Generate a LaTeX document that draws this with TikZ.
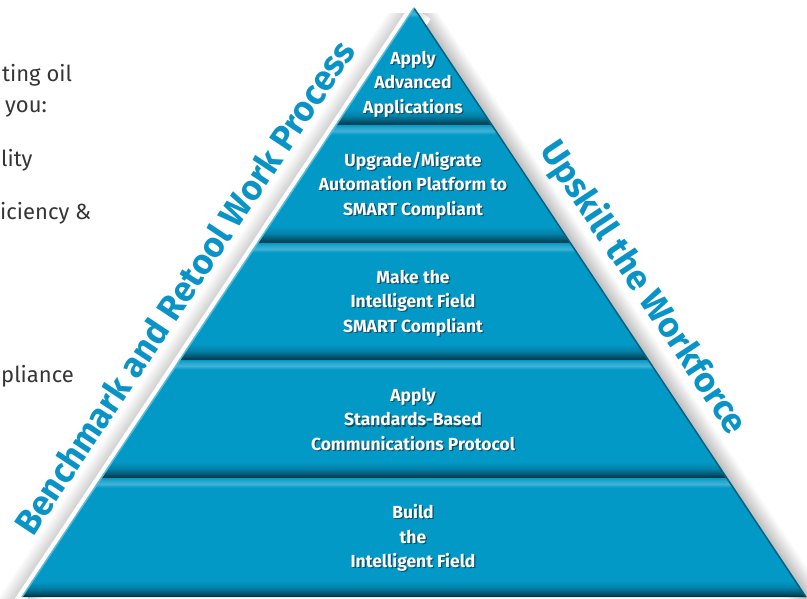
\documentclass[tikz,border=0pt]{standalone}
\usepackage{fontspec}
\setmainfont{Fira Sans}
\usetikzlibrary{calc}
\definecolor{pblue}{HTML}{0399C7}
\definecolor{sideblue}{HTML}{0A93C6}
\definecolor{lefttext}{HTML}{353535}
\definecolor{tshadow}{HTML}{0B4F68}
\pgfdeclareverticalshading{layershade}{100bp}{color(0bp)=(black!70!pblue); color(25bp)=(black!70!pblue); color(26.5bp)=(black!45!pblue); color(29bp)=(black!15!pblue); color(32bp)=(pblue); color(71bp)=(pblue); color(72.5bp)=(white!25!pblue); color(74bp)=(white!12!pblue); color(75bp)=(pblue); color(100bp)=(pblue)}
\tikzset{
  ptext/.style={text=white, font=\bfseries\fontsize{17.5}{24.5}\selectfont, align=center, inner sep=0pt},
  ltext/.style={text=lefttext, font=\fontsize{22}{25}\selectfont, anchor=base west, inner sep=0pt},
  stext/.style={text=sideblue, font=\bfseries\fontsize{35}{35}\selectfont, inner sep=0pt},
  layer/.style={shading=layershade}
}
\newcommand\shd[1]{\leavevmode\rlap{\raisebox{-1.3pt}{\hspace{1.3pt}\textcolor{tshadow}{#1}}}#1}
\begin{document}
\begin{tikzpicture}[x=1pt,y=-1pt]
\path[use as bounding box] (0,0) rectangle (807,599);
\fill[white] (0,0) rectangle (807,599);
\clip (0,0) rectangle (807,599);
\coordinate (A) at (414,8);
\coordinate (L1) at (336.1,125); \coordinate (R1) at (491.9,125);
\coordinate (L2) at (257.6,243); \coordinate (R2) at (570.4,243);
\coordinate (L3) at (179.7,360); \coordinate (R3) at (648.3,360);
\coordinate (L4) at (101.2,478); \coordinate (R4) at (726.8,478);
\coordinate (L5) at (22,597);    \coordinate (R5) at (806,597);
% side bevels
\begin{scope}
\clip (0,14) rectangle (807,599);
\foreach \w in {36,34,...,2}{\pgfmathsetmacro\c{(36-\w)*1.5}
  \draw[line width=\w pt, draw=gray!\c] (A) -- ($(A)!1.06!(R5)$);}
\foreach \w in {40,38,...,12}{\pgfmathsetmacro\c{(40-\w)*1.2}
  \draw[line width=\w pt, draw=gray!\c] (A) -- ($(A)!1.06!(L5)$);}
\draw[line width=10pt, white] (A) -- ($(A)!1.06!(L5)$);
\end{scope}
% layers
\shade[layer] (A) -- (L1) -- (R1) -- cycle;
\shade[layer] (L1) -- (L2) -- (R2) -- (R1) -- cycle;
\shade[layer] (L2) -- (L3) -- (R3) -- (R2) -- cycle;
\shade[layer] (L3) -- (L4) -- (R4) -- (R3) -- cycle;
\shade[layer] (L4) -- (L5) -- (R5) -- (R4) -- cycle;
\draw[line width=1.5pt, black!35!pblue] (A) -- (R5);
\draw[line width=1.5pt, white!35!pblue] (A) -- (L5);
% labels
\node[ptext] (p1) at (413,84.5) {\shd{Apply}\\\shd{Advanced}\\\shd{Applications}};
\node[ptext] (p2) at (413,186) {\shd{Upgrade/Migrate}\\\shd{Automation Platform to}\\\shd{SMART Compliant}};
\node[ptext] (p3) at (413,303.5) {\shd{Make the}\\\shd{Intelligent Field}\\\shd{SMART Compliant}};
\node[ptext] (p4) at (413,420) {\shd{Apply}\\\shd{Standards-Based}\\\shd{Communications Protocol}};
\node[ptext] (p5) at (413,538.5) {\shd{Build}\\\shd{the}\\\shd{Intelligent Field}};
% side texts
\node[stext, rotate=56.4] (bm) at (184,287) {Benchmark and Retool Work Process};
\node[stext, rotate=-56.4] (uw) at (643,288) {Upskill the Workforce};
% left cut text
\node[ltext] (t1) at (2,82) {ting oil};
\node[ltext] (t2) at (5,113) {you:};
\node[ltext] (t3) at (1,167) {lity};
\node[ltext] (t4) at (0,220) {iciency \&};
\node[ltext] (t5) at (1,382) {pliance};
\end{tikzpicture}
\end{document}
